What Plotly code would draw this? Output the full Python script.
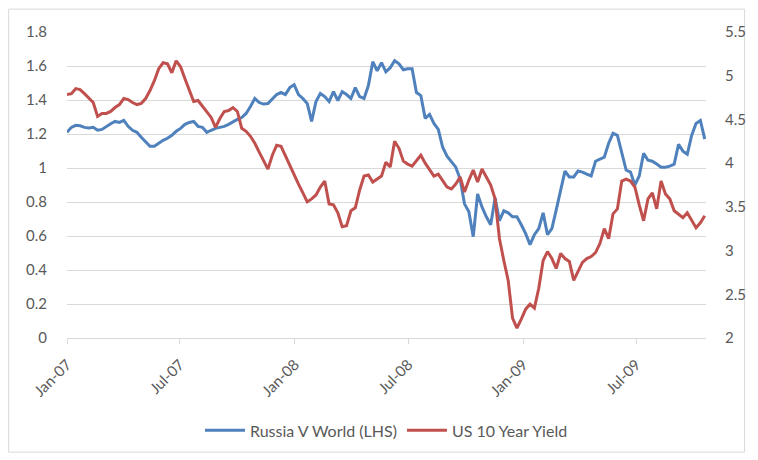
import pandas as pd
import plotly.graph_objects as go

# Weekly observations, Jan 2007 - Oct 2009
dates = pd.date_range("2007-01-01", periods=147, freq="7D")

russia_v_world = [
    1.210, 1.239, 1.251, 1.248, 1.239, 1.236, 1.239, 1.222, 1.227, 1.245,
    1.260, 1.274, 1.268, 1.280, 1.245, 1.222, 1.210, 1.181, 1.157, 1.128,
    1.128, 1.146, 1.163, 1.175, 1.192, 1.216, 1.233, 1.257, 1.268, 1.274,
    1.245, 1.239, 1.210, 1.222, 1.233, 1.239, 1.245, 1.257, 1.274, 1.286,
    1.297, 1.321, 1.362, 1.409, 1.385, 1.376, 1.379, 1.403, 1.432, 1.444,
    1.432, 1.473, 1.490, 1.432, 1.409, 1.379, 1.274, 1.391, 1.438, 1.420,
    1.391, 1.449, 1.397, 1.449, 1.432, 1.409, 1.473, 1.420, 1.409, 1.485,
    1.625, 1.572, 1.619, 1.566, 1.590, 1.631, 1.613, 1.578, 1.584, 1.584,
    1.444, 1.426, 1.292, 1.315, 1.262, 1.227, 1.122, 1.070, 1.034, 1.005,
    0.935, 0.789, 0.742, 0.596, 0.847, 0.771, 0.713, 0.666, 0.824, 0.690,
    0.748, 0.736, 0.713, 0.713, 0.666, 0.614, 0.549, 0.608, 0.643, 0.736,
    0.608, 0.643, 0.754, 0.865, 0.982, 0.947, 0.947, 0.982, 0.976, 0.964,
    0.953, 1.040, 1.052, 1.064, 1.146, 1.204, 1.192, 1.081, 0.988, 0.976,
    0.900, 0.953, 1.087, 1.046, 1.040, 1.023, 1.005, 1.005, 1.011, 1.023,
    1.140, 1.099, 1.081, 1.192, 1.262, 1.280, 1.170,
]

us_10y_yield = [
    4.784, 4.795, 4.852, 4.841, 4.795, 4.739, 4.693, 4.534, 4.568, 4.568,
    4.591, 4.636, 4.670, 4.739, 4.727, 4.693, 4.670, 4.682, 4.739, 4.830,
    4.943, 5.080, 5.148, 5.136, 5.034, 5.170, 5.102, 4.966, 4.841, 4.705,
    4.716, 4.648, 4.591, 4.523, 4.409, 4.511, 4.591, 4.602, 4.636, 4.591,
    4.398, 4.364, 4.307, 4.227, 4.125, 4.034, 3.932, 4.091, 4.205, 4.193,
    4.080, 3.966, 3.864, 3.761, 3.659, 3.557, 3.591, 3.636, 3.727, 3.795,
    3.534, 3.523, 3.432, 3.273, 3.284, 3.455, 3.489, 3.693, 3.852, 3.864,
    3.784, 3.818, 3.852, 4.011, 3.955, 4.250, 4.170, 4.023, 3.989, 3.966,
    4.023, 4.091, 4.000, 3.920, 3.852, 3.875, 3.795, 3.727, 3.705, 3.761,
    3.841, 3.670, 3.807, 3.920, 3.784, 3.932, 3.841, 3.750, 3.591, 3.136,
    2.886, 2.659, 2.227, 2.114, 2.216, 2.330, 2.386, 2.341, 2.568, 2.886,
    2.989, 2.909, 2.795, 2.966, 2.909, 2.875, 2.659, 2.761, 2.864, 2.909,
    2.932, 2.977, 3.080, 3.250, 3.136, 3.420, 3.477, 3.795, 3.818, 3.795,
    3.727, 3.523, 3.341, 3.591, 3.659, 3.477, 3.795, 3.648, 3.591, 3.455,
    3.420, 3.375, 3.432, 3.341, 3.261, 3.318, 3.398,
]

tick_dates = ["2007-01-01", "2007-07-01", "2008-01-01", "2008-07-01", "2009-01-01", "2009-07-01"]
tick_labels = ["Jan-07", "Jul-07", "Jan-08", "Jul-08", "Jan-09", "Jul-09"]
left_ticks = [0, 0.2, 0.4, 0.6, 0.8, 1, 1.2, 1.4, 1.6, 1.8]
right_ticks = [2, 2.5, 3, 3.5, 4, 4.5, 5, 5.5]

BLUE = "#4F81BD"
RED = "#C0504D"
TXT = "#595959"
GRID = "#D9D9D9"
FONT = "Lato"

fig = go.Figure()
fig.add_trace(go.Scatter(x=dates, y=russia_v_world, name="Russia V World (LHS)",
                         mode="lines", line=dict(color=BLUE, width=3), yaxis="y"))
fig.add_trace(go.Scatter(x=dates, y=us_10y_yield, name="US 10 Year Yield",
                         mode="lines", line=dict(color=RED, width=3), yaxis="y2"))

fig.update_layout(
    width=758, height=460,
    margin=dict(l=67, r=45, t=32, b=120),
    paper_bgcolor="white", plot_bgcolor="white",
    font=dict(family=FONT, size=15, color=TXT),
    showlegend=True,
    legend=dict(orientation="h", x=0.5, xanchor="center", y=-0.302, yanchor="middle",
                font=dict(family=FONT, size=16, color=TXT), itemwidth=40,
                traceorder="normal"),
    xaxis=dict(
        type="date",
        range=["2007-01-01", "2009-10-21"],
        tickvals=tick_dates, ticktext=tick_labels, tickangle=-45,
        showgrid=False, showline=True, linecolor=GRID, linewidth=1,
        ticks="outside", ticklen=5, tickcolor=GRID,
        ticklabelstandoff=6,
        tickfont=dict(family=FONT, size=15, color=TXT),
        zeroline=False,
    ),
    yaxis=dict(
        range=[0, 1.8], tickvals=left_ticks,
        ticktext=[("%g" % v) for v in left_ticks],
        showgrid=True, gridcolor=GRID, gridwidth=1,
        zeroline=False, showline=False, ticks="",
        ticklabelstandoff=19,
        tickfont=dict(family=FONT, size=15, color=TXT),
    ),
    yaxis2=dict(
        range=[2, 5.5], tickvals=right_ticks,
        ticktext=[("%g" % v) for v in right_ticks],
        overlaying="y", side="right", showgrid=False,
        zeroline=False, showline=False, ticks="",
        ticklabelstandoff=18,
        tickfont=dict(family=FONT, size=15, color=TXT),
    ),
)

# outer chart border
fig.add_shape(type="rect", xref="paper", yref="paper",
              x0=-0.0913, x1=1.0604, y0=-0.373, y1=1.0747,
              line=dict(color=GRID, width=1), fillcolor="rgba(0,0,0,0)", layer="below")

fig.write_html("out.html")
